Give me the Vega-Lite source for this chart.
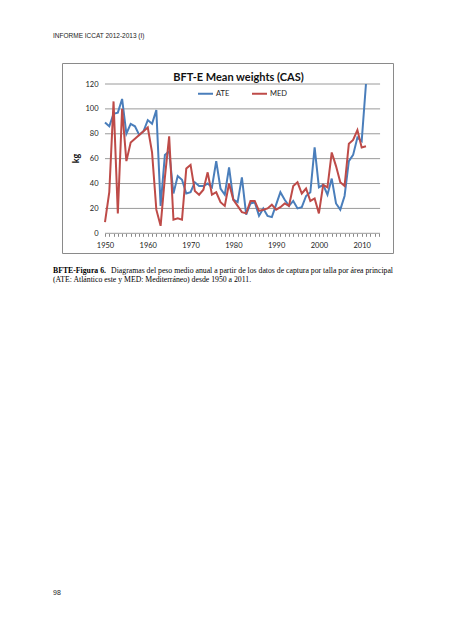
{
  "$schema": "https://vega.github.io/schema/vega-lite/v6.json",
  "background": "white",
  "padding": {"left": 53, "top": 33, "right": 0, "bottom": 0},
  "title": {"text": "INFORME ICCAT 2012-2013 (I)", "anchor": "start", "font": "Liberation Sans", "fontSize": 6.5, "fontWeight": "normal", "color": "#222222", "offset": 23},
  "spacing": 12,
  "datasets": {
    "grid": [{"g": 0}, {"g": 20}, {"g": 40}, {"g": 60}, {"g": 80}, {"g": 100}, {"g": 120}],
    "weights": [
      {"year": 1950, "ATE": 89, "MED": 9},
      {"year": 1951, "ATE": 86, "MED": 33},
      {"year": 1952, "ATE": 96, "MED": 106},
      {"year": 1953, "ATE": 97, "MED": 16},
      {"year": 1954, "ATE": 108, "MED": 100},
      {"year": 1955, "ATE": 80, "MED": 58},
      {"year": 1956, "ATE": 88, "MED": 73},
      {"year": 1957, "ATE": 86, "MED": 76},
      {"year": 1958, "ATE": 79, "MED": 79},
      {"year": 1959, "ATE": 82, "MED": 82},
      {"year": 1960, "ATE": 91, "MED": 85},
      {"year": 1961, "ATE": 88, "MED": 65},
      {"year": 1962, "ATE": 99, "MED": 19},
      {"year": 1963, "ATE": 22, "MED": 6},
      {"year": 1964, "ATE": 63, "MED": 45},
      {"year": 1965, "ATE": 66, "MED": 78},
      {"year": 1966, "ATE": 32, "MED": 11},
      {"year": 1967, "ATE": 46, "MED": 12},
      {"year": 1968, "ATE": 43, "MED": 11},
      {"year": 1969, "ATE": 32, "MED": 52},
      {"year": 1970, "ATE": 33, "MED": 55},
      {"year": 1971, "ATE": 41, "MED": 34},
      {"year": 1972, "ATE": 38, "MED": 31},
      {"year": 1973, "ATE": 38, "MED": 35},
      {"year": 1974, "ATE": 40, "MED": 49},
      {"year": 1975, "ATE": 37, "MED": 31},
      {"year": 1976, "ATE": 58, "MED": 33},
      {"year": 1977, "ATE": 36, "MED": 25},
      {"year": 1978, "ATE": 31, "MED": 22},
      {"year": 1979, "ATE": 53, "MED": 40},
      {"year": 1980, "ATE": 27, "MED": 27},
      {"year": 1981, "ATE": 25, "MED": 22},
      {"year": 1982, "ATE": 45, "MED": 17},
      {"year": 1983, "ATE": 15, "MED": 16},
      {"year": 1984, "ATE": 24, "MED": 26},
      {"year": 1985, "ATE": 25, "MED": 26},
      {"year": 1986, "ATE": 14, "MED": 18},
      {"year": 1987, "ATE": 20, "MED": 19},
      {"year": 1988, "ATE": 14, "MED": 20},
      {"year": 1989, "ATE": 13, "MED": 23},
      {"year": 1990, "ATE": 23, "MED": 19},
      {"year": 1991, "ATE": 33, "MED": 21},
      {"year": 1992, "ATE": 27, "MED": 24},
      {"year": 1993, "ATE": 22, "MED": 22},
      {"year": 1994, "ATE": 26, "MED": 38},
      {"year": 1995, "ATE": 20, "MED": 41},
      {"year": 1996, "ATE": 21, "MED": 32},
      {"year": 1997, "ATE": 30, "MED": 36},
      {"year": 1998, "ATE": 33, "MED": 26},
      {"year": 1999, "ATE": 69, "MED": 28},
      {"year": 2000, "ATE": 37, "MED": 16},
      {"year": 2001, "ATE": 39, "MED": 39},
      {"year": 2002, "ATE": 31, "MED": 37},
      {"year": 2003, "ATE": 44, "MED": 65},
      {"year": 2004, "ATE": 24, "MED": 54},
      {"year": 2005, "ATE": 19, "MED": 41},
      {"year": 2006, "ATE": 30, "MED": 38},
      {"year": 2007, "ATE": 58, "MED": 72},
      {"year": 2008, "ATE": 63, "MED": 75},
      {"year": 2009, "ATE": 77, "MED": 83},
      {"year": 2010, "ATE": 74, "MED": 69},
      {"year": 2011, "ATE": 120, "MED": 70}
    ],
    "caption": [
      {"line": 1, "part": "bold", "text": "BFTE-Figura 6."},
      {"line": 1, "part": "right", "text": "Diagramas del peso medio anual a partir de los datos de captura por talla por área principal"},
      {"line": 2, "part": "left", "text": "(ATE: Atlántico este y MED: Mediterráneo) desde 1950 a 2011."}
    ],
    "page": [{"text": "98"}]
  },
  "vconcat": [
    {
      "width": 331,
      "height": 190,
      "view": {"stroke": "#8a8a8a", "strokeWidth": 1},
      "title": {"text": "BFT-E Mean weights (CAS)", "font": "Lato", "fontSize": 11, "fontWeight": "bold", "color": "#111111", "offset": -19.5, "dx": 11, "anchor": "middle"},
      "layer": [
        {
          "data": {"name": "grid"},
          "mark": {"type": "rule", "color": "#9a9a9a", "strokeWidth": 1},
          "encoding": {
            "y": {
              "field": "g", "type": "quantitative",
              "scale": {"domain": [-15.83, 136.88], "nice": false, "zero": false},
              "axis": {
                "orient": "left", "offset": -43, "title": "kg", "titleFont": "Lato", "titleFontSize": 9, "titleFontWeight": "bold", "titleColor": "#111111", "titlePadding": 4,
                "domain": false, "ticks": false, "grid": false,
                "values": [0, 20, 40, 60, 80, 100, 120],
                "labelFont": "Lato", "labelFontSize": 7.5, "labelColor": "#222222", "labelPadding": 7
              }
            },
            "x": {
              "datum": 1950, "type": "quantitative",
              "scale": {"domain": [1939.95, 2017.32], "nice": false, "zero": false},
              "axis": {
                "orient": "bottom", "offset": -19.7, "title": null, "domain": false, "grid": false,
                "values": [1950,1951,1952,1953,1954,1955,1956,1957,1958,1959,1960,1961,1962,1963,1964,1965,1966,1967,1968,1969,1970,1971,1972,1973,1974,1975,1976,1977,1978,1979,1980,1981,1982,1983,1984,1985,1986,1987,1988,1989,1990,1991,1992,1993,1994,1995,1996,1997,1998,1999,2000,2001,2002,2003,2004,2005,2006,2007,2008,2009,2010,2011,2012,2013,2014],
                "tickSize": 3, "tickColor": "#8a8a8a",
                "format": "d",
                "labelExpr": "datum.value % 10 === 0 ? datum.label : ''",
                "labelFont": "Lato", "labelFontSize": 7.5, "labelColor": "#222222", "labelPadding": 5,
                "labelOverlap": false, "labelFlush": false
              }
            },
            "x2": {"datum": 2014.3}
          }
        },
        {
          "data": {"name": "weights"},
          "transform": [{"fold": ["ATE", "MED"], "as": ["area", "kg"]}],
          "mark": {"type": "line", "strokeWidth": 2},
          "encoding": {
            "x": {
              "field": "year", "type": "quantitative",
              "scale": {"domain": [1939.95, 2017.32], "nice": false, "zero": false},
              "axis": {
                "orient": "bottom", "offset": -19.7, "title": null, "domain": false, "grid": false,
                "values": [1950,1951,1952,1953,1954,1955,1956,1957,1958,1959,1960,1961,1962,1963,1964,1965,1966,1967,1968,1969,1970,1971,1972,1973,1974,1975,1976,1977,1978,1979,1980,1981,1982,1983,1984,1985,1986,1987,1988,1989,1990,1991,1992,1993,1994,1995,1996,1997,1998,1999,2000,2001,2002,2003,2004,2005,2006,2007,2008,2009,2010,2011,2012,2013,2014],
                "tickSize": 3, "tickColor": "#8a8a8a",
                "format": "d",
                "labelExpr": "datum.value % 10 === 0 ? datum.label : ''",
                "labelFont": "Lato", "labelFontSize": 7.5, "labelColor": "#222222", "labelPadding": 5,
                "labelOverlap": false, "labelFlush": false
              }
            },
            "y": {
              "field": "kg", "type": "quantitative",
              "scale": {"domain": [-15.83, 136.88], "nice": false, "zero": false},
              "axis": {
                "orient": "left", "offset": -43, "title": "kg", "titleFont": "Lato", "titleFontSize": 9, "titleFontWeight": "bold", "titleColor": "#111111", "titlePadding": 4,
                "domain": false, "ticks": false, "grid": false,
                "values": [0, 20, 40, 60, 80, 100, 120],
                "labelFont": "Lato", "labelFontSize": 7.5, "labelColor": "#222222", "labelPadding": 7
              }
            },
            "color": {
              "field": "area", "type": "nominal",
              "scale": {"domain": ["ATE", "MED"], "range": ["#4a7ebb", "#be4b48"]},
              "legend": {
                "orient": "none", "legendX": 135, "legendY": 22, "direction": "horizontal", "title": null,
                "symbolType": "stroke", "symbolStrokeWidth": 2, "symbolSize": 225,
                "labelFont": "Lato", "labelFontSize": 7.5, "labelColor": "#222222", "columnPadding": 18, "labelOffset": 2
              }
            }
          }
        }
      ]
    },
    {
      "width": 331,
      "height": 18,
      "view": {"stroke": null},
      "data": {"name": "caption"},
      "encoding": {
        "y": {"field": "line", "type": "quantitative", "scale": {"domain": [0.5, 2.5], "range": [0, 18], "nice": false, "zero": false}, "axis": null},
        "text": {"field": "text"}
      },
      "layer": [
        {
          "transform": [{"filter": "datum.part === 'bold'"}],
          "mark": {"type": "text", "align": "left", "baseline": "middle", "font": "Liberation Serif", "fontSize": 7.75, "fontWeight": "bold", "color": "#000000"},
          "encoding": {"x": {"datum": 0, "type": "quantitative", "scale": {"domain": [0, 1], "range": [-9, 331], "nice": false, "zero": false}, "axis": null}}
        },
        {
          "transform": [{"filter": "datum.part === 'right'"}],
          "mark": {"type": "text", "align": "right", "baseline": "middle", "font": "Liberation Serif", "fontSize": 7.75, "color": "#000000"},
          "encoding": {"x": {"datum": 1, "type": "quantitative", "scale": {"domain": [0, 1], "range": [-9, 331], "nice": false, "zero": false}, "axis": null}}
        },
        {
          "transform": [{"filter": "datum.part === 'left'"}],
          "mark": {"type": "text", "align": "left", "baseline": "middle", "font": "Liberation Serif", "fontSize": 7.75, "color": "#000000"},
          "encoding": {"x": {"datum": 0, "type": "quantitative", "scale": {"domain": [0, 1], "range": [-9, 331], "nice": false, "zero": false}, "axis": null}}
        }
      ]
    },
    {
      "width": 331,
      "height": 297,
      "view": {"stroke": null},
      "data": {"name": "page"},
      "mark": {"type": "text", "align": "left", "baseline": "middle", "font": "Liberation Sans", "fontSize": 7, "color": "#222222"},
      "encoding": {
        "x": {"datum": 0, "type": "quantitative", "scale": {"domain": [0, 1], "range": [-9, 331], "nice": false, "zero": false}, "axis": null},
        "y": {"datum": 0, "type": "quantitative", "scale": {"domain": [0, 1], "nice": false, "zero": false}, "axis": null},
        "text": {"field": "text"}
      }
    }
  ]
}
